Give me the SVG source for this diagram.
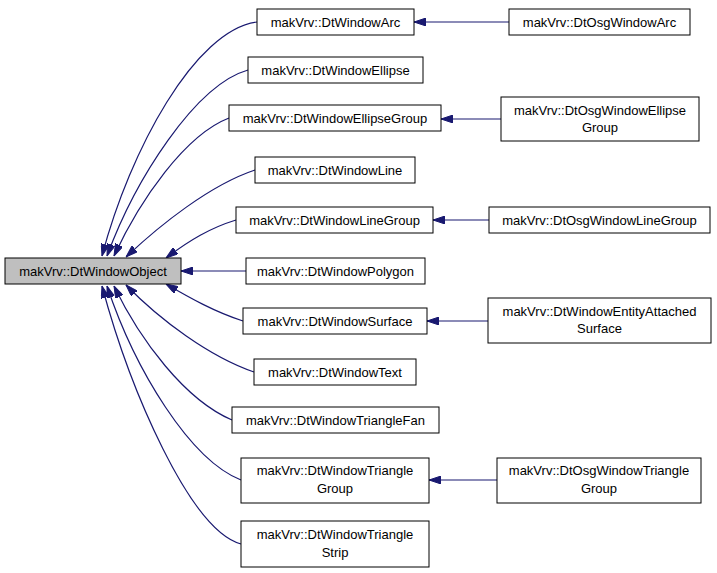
<svg xmlns="http://www.w3.org/2000/svg" width="717" height="573" viewBox="0 0 717 573">
<style>
.n rect{fill:#fff;stroke:#000;stroke-width:1}
.n text{font-family:"Liberation Sans",Arial,sans-serif;font-size:13px;text-anchor:middle;fill:#000}
#e path{fill:none;stroke:#191970;stroke-width:1.2;marker-end:url(#a)}
</style>
<defs><marker id="a" markerUnits="userSpaceOnUse" markerWidth="12" markerHeight="8" refX="12" refY="4" orient="auto"><path d="M0,0L12,4L0,8z" fill="#191970" stroke="#191970"/></marker></defs>
<rect width="717" height="573" fill="#fff"/>
<g id="e">
<path d="M257,22C195,30 130,150 102,256"/>
<path d="M248,70C195,85 135,180 107,256"/>
<path d="M229,118C185,135 140,200 114,256"/>
<path d="M255,170C210,185 160,225 126,257"/>
<path d="M236,220C210,228 190,240 166,258"/>
<path d="M246,271L181,271"/>
<path d="M243,321C215,312 190,298 166,284"/>
<path d="M254,372C210,357 160,320 126,285"/>
<path d="M232,420C185,400 140,340 114,286"/>
<path d="M241,480C190,460 135,370 107,286"/>
<path d="M241,544C190,530 130,390 102,286"/>
<path d="M509,22L414,22"/>
<path d="M501,119L441,119"/>
<path d="M489,220L433,220"/>
<path d="M488,321L427,321"/>
<path d="M497,480L429,480"/>
</g>
<g id="obj" class="n"><rect x="5" y="258" width="176" height="26" style="fill:#bfbfbf"/><text x="93" y="276">makVrv::DtWindowObject</text></g>
<g id="arc" class="n"><rect x="257" y="9" width="157" height="26"/><text x="335.5" y="27">makVrv::DtWindowArc</text></g>
<g id="ell" class="n"><rect x="248" y="57" width="175" height="26"/><text x="335.5" y="75">makVrv::DtWindowEllipse</text></g>
<g id="ellg" class="n"><rect x="229" y="105" width="212" height="26"/><text x="335" y="123">makVrv::DtWindowEllipseGroup</text></g>
<g id="line" class="n"><rect x="255" y="157" width="160" height="26"/><text x="335" y="175">makVrv::DtWindowLine</text></g>
<g id="lineg" class="n"><rect x="236" y="207" width="197" height="26"/><text x="334.5" y="225">makVrv::DtWindowLineGroup</text></g>
<g id="poly" class="n"><rect x="246" y="258" width="179" height="26"/><text x="335.5" y="276">makVrv::DtWindowPolygon</text></g>
<g id="surf" class="n"><rect x="243" y="308" width="184" height="26"/><text x="335" y="326">makVrv::DtWindowSurface</text></g>
<g id="text" class="n"><rect x="254" y="359" width="162" height="26"/><text x="335" y="377">makVrv::DtWindowText</text></g>
<g id="fan" class="n"><rect x="232" y="407" width="207" height="26"/><text x="335.5" y="425">makVrv::DtWindowTriangleFan</text></g>
<g id="trig" class="n"><rect x="241" y="458" width="188" height="45"/><text x="335" y="475">makVrv::DtWindowTriangle</text><text x="335" y="493">Group</text></g>
<g id="tris" class="n"><rect x="241" y="521" width="188" height="46"/><text x="335" y="539">makVrv::DtWindowTriangle</text><text x="335" y="557">Strip</text></g>
<g id="oarc" class="n"><rect x="509" y="9" width="181" height="26"/><text x="599.5" y="27">makVrv::DtOsgWindowArc</text></g>
<g id="oell" class="n"><rect x="501" y="97" width="198" height="44"/><text x="600" y="115">makVrv::DtOsgWindowEllipse</text><text x="600" y="132">Group</text></g>
<g id="oline" class="n"><rect x="489" y="207" width="221" height="26"/><text x="599.5" y="225">makVrv::DtOsgWindowLineGroup</text></g>
<g id="eas" class="n"><rect x="488" y="298" width="223" height="45"/><text x="599.5" y="316">makVrv::DtWindowEntityAttached</text><text x="599.5" y="333">Surface</text></g>
<g id="otri" class="n"><rect x="497" y="458" width="204" height="45"/><text x="599" y="475">makVrv::DtOsgWindowTriangle</text><text x="599" y="493">Group</text></g>
</svg>
